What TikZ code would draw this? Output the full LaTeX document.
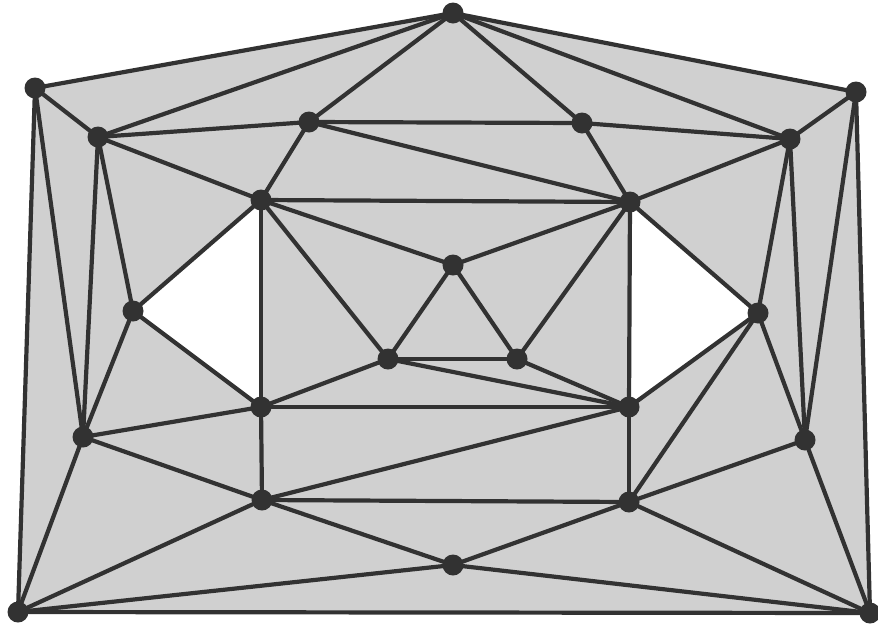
\documentclass[tikz,border=0pt]{standalone}
\usetikzlibrary{backgrounds}
\definecolor{edgec}{RGB}{50,50,50}
\definecolor{facec}{RGB}{208,208,208}
\tikzset{
  v/.style={circle,fill=edgec,draw=none,minimum size=21pt,inner sep=0pt},
  e/.style={draw=edgec,line width=4.2pt,line cap=round},
  face/.style={fill=facec}
}
\begin{document}
\begin{tikzpicture}[x=1pt,y=-1pt]
\useasboundingbox (0,0) rectangle (878,630);
\node[v] (A) at (453,13) {};
\node[v] (B) at (35,88) {};
\node[v] (C) at (856,92) {};
\node[v] (D) at (98,137) {};
\node[v] (E) at (309,122) {};
\node[v] (F) at (582,123) {};
\node[v] (G) at (790,139) {};
\node[v] (H) at (261,200) {};
\node[v] (I) at (630,202) {};
\node[v] (J) at (453,265) {};
\node[v] (K) at (133,311) {};
\node[v] (L) at (758,313) {};
\node[v] (M) at (388,359) {};
\node[v] (N) at (517,359) {};
\node[v] (O) at (261,407) {};
\node[v] (P) at (629,407) {};
\node[v] (Q) at (83,437) {};
\node[v] (R) at (805,440) {};
\node[v] (S) at (262,500) {};
\node[v] (T) at (629,502) {};
\node[v] (U) at (453,565) {};
\node[v] (V) at (18,612) {};
\node[v] (W) at (870,613) {};
\begin{scope}[on background layer]
\fill[face,even odd rule] (A.center) -- (C.center) -- (W.center) -- (V.center) -- (B.center) -- cycle
  (K.center) -- (H.center) -- (O.center) -- cycle
  (I.center) -- (L.center) -- (P.center) -- cycle;
\foreach \a/\b in {A/B,A/C,B/V,C/W,V/W,
  A/D,A/E,A/F,A/G,
  B/D,B/Q,
  D/E,D/H,D/K,D/Q,
  E/F,E/H,E/I,
  F/G,F/I,
  G/C,G/I,G/L,G/R,
  C/R,
  H/I,H/J,H/K,H/O,H/M,
  I/J,I/L,I/P,I/N,
  J/M,J/N,
  K/O,K/Q,
  L/P,L/T,L/R,
  M/N,M/O,M/P,
  N/P,
  O/P,O/Q,O/S,
  P/T,P/S,
  Q/S,Q/V,
  R/T,R/W,
  S/T,S/U,S/V,
  T/U,T/W,
  U/V,U/W}
  \draw[e] (\a.center) -- (\b.center);
\end{scope}
\end{tikzpicture}
\end{document}
